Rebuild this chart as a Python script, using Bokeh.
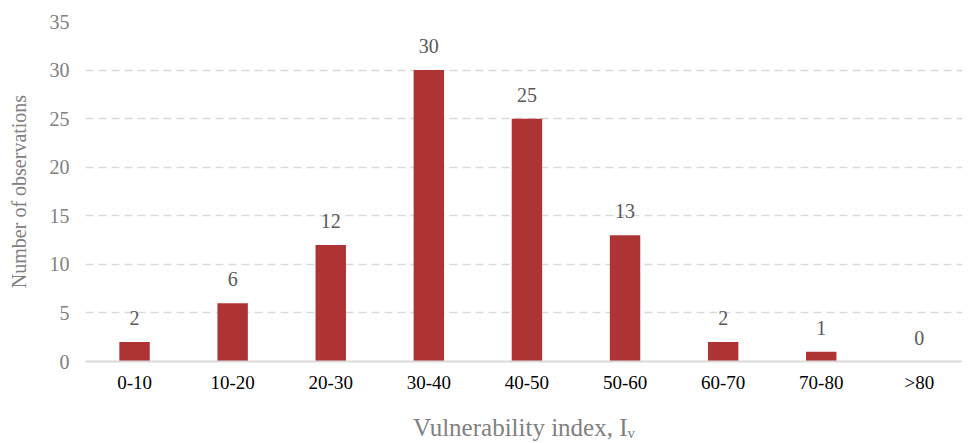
from bokeh.plotting import figure
from bokeh.models import ColumnDataSource, Range1d, FixedTicker, LabelSet
from bokeh.embed import file_html
from bokeh.resources import INLINE

categories = ["0-10", "10-20", "20-30", "30-40", "40-50", "50-60", "60-70", "70-80", ">80"]
counts = [2, 6, 12, 30, 25, 13, 2, 1, 0]
y_ticks = [0, 5, 10, 15, 20, 25, 30, 35]

idx = list(range(len(categories)))
src = ColumnDataSource(dict(x=idx, y=counts, lab=[str(c) for c in counts]))

FONT = "Liberation Serif"
p = figure(width=962, height=443, output_backend="svg", toolbar_location=None,
           x_range=Range1d(-0.5, 8.44), y_range=Range1d(0, 35),
           min_border_left=85, min_border_right=0, min_border_top=21, min_border_bottom=82)
p.outline_line_color = None
p.background_fill_color = "white"

p.vbar(x="x", top="y", width=0.31, source=src, fill_color="#AE3334", line_color=None)

labels = LabelSet(x="x", y="y", text="lab", source=src, y_offset=17,
                  text_align="center", text_baseline="bottom",
                  text_font=FONT, text_font_size="20px", text_color="#595959")
p.add_layout(labels)

# axes
p.xaxis.ticker = FixedTicker(ticks=idx)
p.xaxis.major_label_overrides = {i: c for i, c in zip(idx, categories)}
p.xaxis.major_tick_line_color = None
p.xaxis.minor_tick_line_color = None
p.xaxis.axis_line_color = "#d9d9d9"
p.xaxis.axis_line_width = 2
p.xaxis.major_label_text_font = FONT
p.xaxis.major_label_text_font_size = "19px"
p.xaxis.major_label_text_color = "#000000"
p.xaxis.major_label_standoff = 4
p.xaxis.axis_label = "Vulnerability index, Iᵥ"
p.xaxis.axis_label_text_font = FONT
p.xaxis.axis_label_text_font_size = "25px"
p.xaxis.axis_label_text_font_style = "normal"
p.xaxis.axis_label_text_color = "#808080"
p.xaxis.axis_label_standoff = 18

p.yaxis.ticker = FixedTicker(ticks=y_ticks)
p.yaxis.major_tick_line_color = None
p.yaxis.minor_tick_line_color = None
p.yaxis.axis_line_color = None
p.yaxis.major_label_text_font = FONT
p.yaxis.major_label_text_font_size = "20px"
p.yaxis.major_label_text_color = "#808080"
p.yaxis.major_label_standoff = 10
p.yaxis.axis_label = "Number of observations"
p.yaxis.axis_label_text_font = FONT
p.yaxis.axis_label_text_font_size = "20px"
p.yaxis.axis_label_text_font_style = "normal"
p.yaxis.axis_label_text_color = "#808080"
p.yaxis.axis_label_standoff = 17

p.xgrid.grid_line_color = None
p.ygrid.grid_line_color = "#d9d9d9"
p.ygrid.grid_line_dash = "8 5"
p.ygrid.grid_line_width = 1.3

open("out.html", "w").write(file_html(p, INLINE))
